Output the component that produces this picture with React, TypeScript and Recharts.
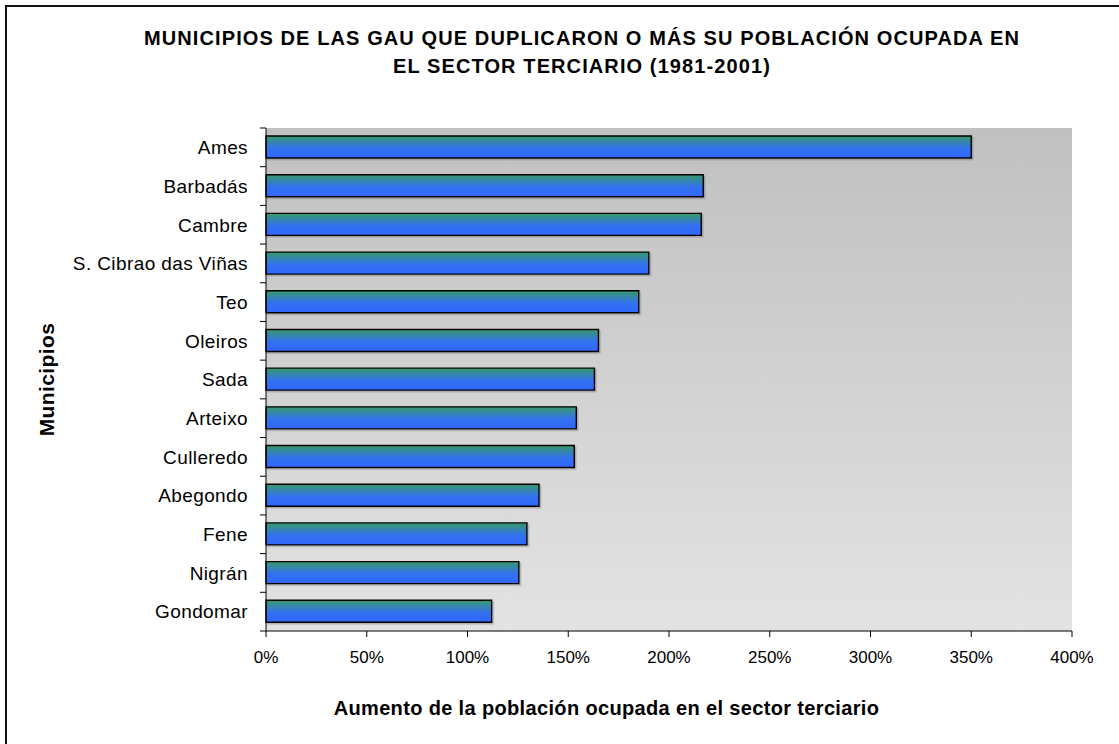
import { Bar, BarChart, CartesianGrid, Label, XAxis, YAxis } from "recharts";

const municipios = [
  "Ames",
  "Barbadás",
  "Cambre",
  "S. Cibrao das Viñas",
  "Teo",
  "Oleiros",
  "Sada",
  "Arteixo",
  "Culleredo",
  "Abegondo",
  "Fene",
  "Nigrán",
  "Gondomar"
];

const aumento = [350, 217, 216, 190, 185, 165, 163, 154, 153, 135.5, 129.5, 125.5, 112];

const xTicks = [0, 50, 100, 150, 200, 250, 300, 350, 400];

const titleLines = [
  "MUNICIPIOS DE LAS GAU QUE DUPLICARON O MÁS SU POBLACIÓN OCUPADA EN",
  "EL SECTOR TERCIARIO (1981-2001)"
];
const xTitle = "Aumento de la población ocupada en el sector terciario";
const yTitle = "Municipios";

const W = 1119;
const H = 744;
const margin = { top: 128, right: 47, bottom: 73, left: 0 };
const X_AXIS_H = 40;
const Y_AXIS_W = 266;
const band = (H - margin.top - margin.bottom - X_AXIS_H) / municipios.length;
const font = '"Liberation Sans", Arial, sans-serif';

const data = municipios.map((name, i) => ({ name, value: aumento[i] }));

function CategoryTick(props: any) {
  const { x, y, payload, index } = props;
  const lx1 = x + 12;
  const lx2 = x + 18;
  return (
    <g>
      <line x1={lx1} x2={lx2} y1={y - band / 2} y2={y - band / 2} stroke="#000" />
      {index === municipios.length - 1 && (
        <line x1={lx1} x2={lx2} y1={y + band / 2} y2={y + band / 2} stroke="#000" />
      )}
      <text
        x={x}
        y={y}
        dy="0.36em"
        textAnchor="end"
        fill="#000"
        fontSize={19}
        letterSpacing={0.4}
        fontFamily={font}
      >
        {payload.value}
      </text>
    </g>
  );
}

export default function App() {
  return (
    <div
      style={{
        position: "absolute",
        left: 0,
        top: 0,
        width: W,
        height: H,
        background: "#fff",
        overflow: "hidden",
        fontFamily: font
      }}
    >
      <div
        style={{
          position: "absolute",
          left: 5,
          top: 5,
          width: W,
          height: H,
          borderLeft: "2px solid #111",
          borderTop: "2px solid #111"
        }}
      />
      <div
        style={{
          position: "absolute",
          left: 0,
          width: 1164,
          top: 24,
          textAlign: "center",
          fontWeight: "bold",
          fontSize: 20,
          letterSpacing: 1.1,
          lineHeight: "28px",
          color: "#000"
        }}
      >
        {titleLines.map((t) => (
          <div key={t}>{t}</div>
        ))}
      </div>
      <div
        style={{
          position: "absolute",
          left: 0,
          width: 1213,
          top: 697,
          textAlign: "center",
          fontWeight: "bold",
          fontSize: 20,
          letterSpacing: 0.35,
          lineHeight: "23px",
          color: "#000"
        }}
      >
        {xTitle}
      </div>
      <div style={{ position: "absolute", left: 0, top: 0 }}>
        <BarChart
          width={W}
          height={H}
          data={data}
          layout="vertical"
          margin={margin}
          barCategoryGap="42%"
        >
          <defs>
            <linearGradient id="plotBg" x1="0" y1="0" x2="0" y2="1">
              <stop offset="0" stopColor="#c0c0c0" />
              <stop offset="1" stopColor="#e3e3e3" />
            </linearGradient>
            <linearGradient id="barGrad" x1="0" y1="0" x2="0" y2="1">
              <stop offset="0" stopColor="#379a68" />
              <stop offset="0.55" stopColor="#3372ee" />
              <stop offset="1" stopColor="#3366ff" />
            </linearGradient>
            <filter id="barShadow" x="-5%" y="-20%" width="110%" height="150%">
              <feDropShadow dx="1.5" dy="1.5" stdDeviation="0.6" floodColor="#555" floodOpacity="0.35" />
            </filter>
          </defs>
          <CartesianGrid horizontal={false} vertical={false} fill="url(#plotBg)" />
          <XAxis
            type="number"
            domain={[0, 400]}
            ticks={xTicks}
            interval={0}
            height={X_AXIS_H}
            tickFormatter={(v: number) => `${v}%`}
            tick={{ fill: "#000", fontSize: 17, fontFamily: font }}
            tickSize={6}
            tickMargin={14}
            axisLine={{ stroke: "#000" }}
            tickLine={{ stroke: "#000" }}
          />
          <XAxis
            xAxisId="top"
            orientation="top"
            type="number"
            domain={[0, 400]}
            height={0}
            tick={false}
            tickLine={false}
            axisLine={{ stroke: "#8c8c8c", strokeWidth: 2 }}
          />
          <YAxis
            type="category"
            dataKey="name"
            width={Y_AXIS_W}
            interval={0}
            tick={<CategoryTick />}
            tickSize={0}
            tickMargin={18}
            tickLine={false}
            axisLine={{ stroke: "#000" }}
          >
            <Label
              value={yTitle}
              angle={-90}
              position="insideLeft"
              offset={47}
              style={{
                textAnchor: "middle",
                fontWeight: "bold",
                fontSize: 21,
                letterSpacing: 0.4,
                fill: "#000",
                fontFamily: font
              }}
            />
          </YAxis>
          <YAxis
            yAxisId="right"
            orientation="right"
            type="category"
            dataKey="name"
            width={0}
            tick={false}
            tickLine={false}
            axisLine={{ stroke: "#8c8c8c", strokeWidth: 2 }}
          />
          <Bar
            dataKey="value"
            barSize={22}
            fill="url(#barGrad)"
            stroke="#000"
            strokeWidth={1.4}
            filter="url(#barShadow)"
            isAnimationActive={false}
          />
        </BarChart>
      </div>
    </div>
  );
}
